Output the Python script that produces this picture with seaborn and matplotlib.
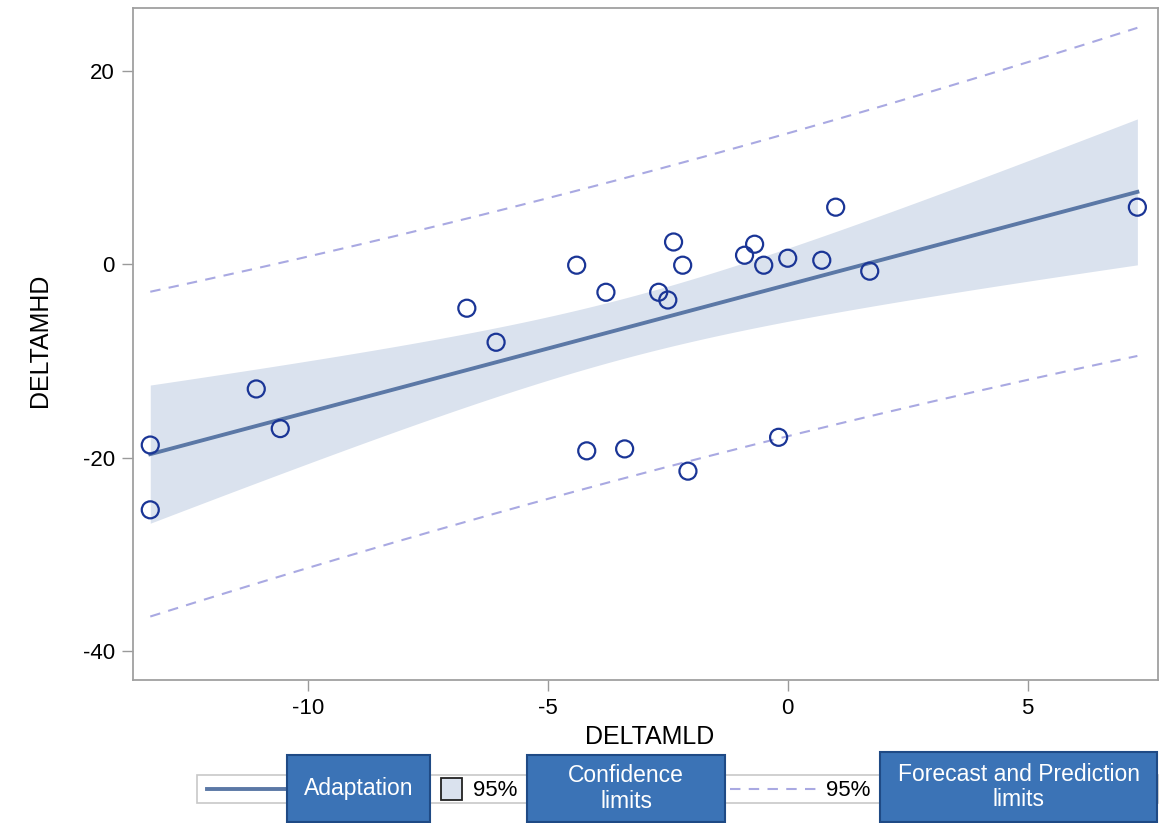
import numpy as np
import pandas as pd
import matplotlib
matplotlib.use("Agg")
import matplotlib.pyplot as plt
import seaborn as sns
from matplotlib.patches import Rectangle
from matplotlib.lines import Line2D

# ---- data ----
deltamld = [-13.29, -13.29, -11.08, -10.58, -6.69, -6.08, -4.40, -4.19, -3.79, -3.40,
            -2.69, -2.50, -2.38, -2.19, -2.08, -0.90, -0.69, -0.50, -0.19, 0.00,
            0.71, 1.00, 1.71, 7.29]
deltamhd = [-18.7, -25.4, -12.9, -17.0, -4.55, -8.07, -0.1, -19.3, -2.9, -19.1,
            -2.9, -3.7, 2.3, -0.1, -21.4, 0.93, 2.07, -0.1, -17.9, 0.62,
            0.41, 5.9, -0.72, 5.9]
x_ticks = [-10, -5, 0, 5]
y_ticks = [-40, -20, 0, 20]
legend_labels = ["Adaptation", "Confidence\nlimits", "Forecast and Prediction\nlimits"]
T_CRIT = 2.074  # t(0.975, df=22)

df = pd.DataFrame({"DELTAMLD": deltamld, "DELTAMHD": deltamhd})

# regression with analytic confidence / prediction limits
x = df["DELTAMLD"].to_numpy()
y = df["DELTAMHD"].to_numpy()
n = len(x)
b1, b0 = np.polyfit(x, y, 1)
resid = y - (b0 + b1 * x)
s = np.sqrt(np.sum(resid ** 2) / (n - 2))
sxx = np.sum((x - x.mean()) ** 2)
xg = np.linspace(x.min(), x.max(), 200)
yg = b0 + b1 * xg
se_mean = s * np.sqrt(1 / n + (xg - x.mean()) ** 2 / sxx)
se_pred = s * np.sqrt(1 + 1 / n + (xg - x.mean()) ** 2 / sxx)
fit = pd.DataFrame({"x": xg, "fit": yg,
                    "clm_lo": yg - T_CRIT * se_mean, "clm_hi": yg + T_CRIT * se_mean,
                    "pi_lo": yg - T_CRIT * se_pred, "pi_hi": yg + T_CRIT * se_pred})

W, H = 1159, 823
fig = plt.figure(figsize=(W / 100, H / 100), dpi=100)
plt.rcParams['font.family'] = ['Liberation Sans', 'DejaVu Sans']
ax = fig.add_axes([133 / W, 1 - 680 / H, (1158 - 133) / W, (680 - 8) / H])

band_col = "#DAE2EE"
line_col = "#5B78A6"
pred_col = "#A9A9E2"
pt_col = "#1A3596"

ax.fill_between(fit["x"], fit["clm_lo"], fit["clm_hi"], color=band_col, lw=0, zorder=1)
sns.lineplot(data=fit, x="x", y="pi_lo", ax=ax, color=pred_col, lw=1.5, ls=(0, (5, 4)), zorder=2)
sns.lineplot(data=fit, x="x", y="pi_hi", ax=ax, color=pred_col, lw=1.5, ls=(0, (5, 4)), zorder=2)
sns.lineplot(data=fit, x="x", y="fit", ax=ax, color=line_col, lw=2.8, zorder=3)
sns.scatterplot(data=df, x="DELTAMLD", y="DELTAMHD", ax=ax, marker="o", s=150,
                facecolor="none", edgecolor=pt_col, linewidth=1.6, zorder=4)

ax.set_xlim(-13.65, 7.72)
ax.set_ylim(-43.0, 26.5)
ax.set_xticks(x_ticks)
ax.set_yticks(y_ticks)
ax.set_xticklabels([str(t) for t in x_ticks], fontsize=16)
ax.set_yticklabels([str(t) for t in y_ticks], fontsize=16)
ax.tick_params(direction="out", length=8, width=1, color="#9A9A9A", pad=5)
for sp in ax.spines.values():
    sp.set_color("#A0A0A0")
    sp.set_linewidth(1.3)
ax.set_xlabel("DELTAMLD", fontsize=18)
ax.set_ylabel("DELTAMHD", fontsize=18)
ax.xaxis.set_label_coords((650 - 133) / 1025, (680 - 737) / 672)
ax.xaxis.label.set_va("center")
ax.yaxis.set_label_coords((40 - 133) / 1025, (680 - 340) / 672)
ax.yaxis.label.set_va("center")

# ---- legend drawn in figure pixel coordinates ----
def fx(px):
    return px / W

def fy(py):
    return 1 - py / H

fig.add_artist(Rectangle((fx(197), fy(803)), fx(1158) - fx(197), fy(775) - fy(803),
                         transform=fig.transFigure, facecolor="white",
                         edgecolor="#C8C8C8", lw=1.2, zorder=5))
fig.add_artist(Line2D([fx(207), fx(290)], [fy(789), fy(789)], transform=fig.transFigure,
                      color=line_col, lw=2.8, zorder=6))
fig.add_artist(Rectangle((fx(441), fy(800)), fx(462) - fx(441), fy(778) - fy(800),
                         transform=fig.transFigure, facecolor=band_col,
                         edgecolor="#222222", lw=1.3, zorder=6))
fig.text(fx(473), fy(790), "95%", fontsize=16, va="center", ha="left", zorder=6)
fig.add_artist(Line2D([fx(730), fx(822)], [fy(789), fy(789)], transform=fig.transFigure,
                      color=pred_col, lw=1.5, ls=(0, (5, 4)), zorder=6))
fig.text(fx(826), fy(790), "95%", fontsize=16, va="center", ha="left", zorder=6)

boxes = [(287, 430, 755, 822), (527, 725, 755, 822), (880, 1157, 752, 822)]
for (x0, x1, y0, y1), lab in zip(boxes, legend_labels):
    fig.add_artist(Rectangle((fx(x0), fy(y1)), fx(x1) - fx(x0), fy(y0) - fy(y1),
                             transform=fig.transFigure, facecolor="#3B73B6",
                             edgecolor="#1F4A85", lw=1.5, zorder=7))
    fig.text(fx((x0 + x1) / 2), fy((y0 + y1) / 2), lab, color="white", fontsize=16.5,
             ha="center", va="center", linespacing=1.15, zorder=8)

fig.savefig("out.png", dpi=100, facecolor="white")
